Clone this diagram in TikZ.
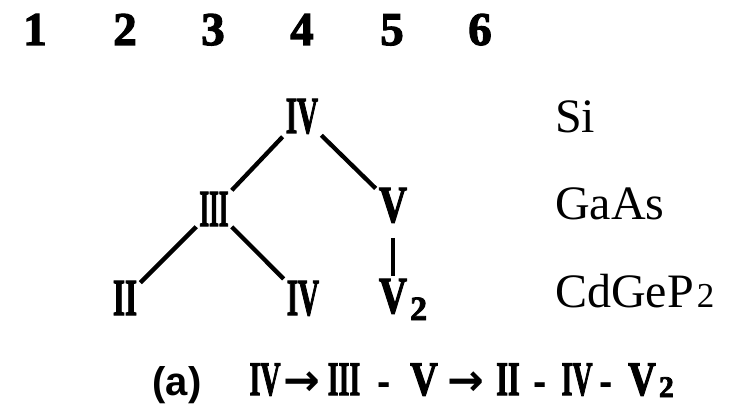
\documentclass[tikz,border=0pt]{standalone}
\usepackage{fontspec}
\usepackage{graphicx}
\setmainfont{Liberation Serif}
\newfontfamily\rnfont[BoldFeatures={FakeBold=2.5}]{Liberation Serif}
\newfontfamily\capsans{Liberation Sans}
\newfontfamily\arrowfont{DejaVu Sans}
\newcommand\RN[2]{\scalebox{#1}[1]{#2}}
\newcommand\subtwo[3]{\rlap{\hspace{3pt}\raisebox{#3}{\fontsize{#1}{#1}\selectfont #2}}}
\begin{document}
\begin{tikzpicture}[x=1pt,y=-1pt,
  rn/.style={font=\fontsize{52}{52}\selectfont\rnfont\bfseries, inner sep=3pt, anchor=base},
  rnc/.style={font=\fontsize{48}{48}\selectfont\rnfont\bfseries, inner sep=0pt, anchor=base},
  digit/.style={font=\fontsize{47}{47}\selectfont\rnfont\bfseries, inner sep=0pt, anchor=base},
  lbl/.style={font=\fontsize{48}{48}\selectfont, inner sep=0pt, anchor=base west},
  arr/.style={font=\fontsize{44}{44}\selectfont\arrowfont\bfseries, inner sep=0pt, anchor=base},
  dsh/.style={font=\fontsize{40}{40}\selectfont\capsans\bfseries, inner sep=0pt, anchor=base},
  conn/.style={line width=4.3pt}]
\useasboundingbox (0,0) rectangle (749,406);
\fill[white] (0,0) rectangle (749,406);
% column numbers
\node[digit] (d1) at (35,45) {1};
\node[digit] (d2) at (125,45) {2};
\node[digit] (d3) at (213,45) {3};
\node[digit] (d4) at (302,45) {4};
\node[digit] (d5) at (392,45) {5};
\node[digit] (d6) at (480,45) {6};
% tree
\node[rn] (t4) at (302,133) {\RN{0.56}{IV}};
\node[rn] (m3) at (214,226) {\RN{0.48}{III}};
\node[rn] (m5) at (393,222) {\RN{0.75}{V}};
\node[rn] (b2) at (125,315) {\RN{0.6}{II}};
\node[rn] (b4) at (303,315) {\RN{0.56}{IV}};
\node[rn] (b5) at (393,313) {\RN{0.75}{V}\subtwo{34}{2}{-7pt}};
\draw[conn] (t4) -- (m3);
\draw[conn] (t4) -- (m5);
\draw[conn] (m3) -- (b2);
\draw[conn] (m3) -- (b4);
\draw[conn, line width=3.5pt, shorten <=12pt] (m5.south) -- (b5.north);
% labels
\node[lbl] (si) at (555,133) {Si};
\node[lbl] (gaas) at (555,219) {GaAs};
\node[lbl] (cdgep) at (555,307) {CdGeP\hspace{3pt}{\fontsize{35}{35}\selectfont 2}};
% caption
\node[font=\fontsize{40}{40}\selectfont\capsans\bfseries, inner sep=0pt, anchor=base] (ca) at (177,395) {(a)};
\node[rnc] (c1) at (265,395) {\RN{0.58}{IV}};
\node[arr] (c2) at (302,395) {→};
\node[rnc] (c3) at (344,395) {\RN{0.58}{III}};
\node[dsh] (c4) at (384,395) {-};
\node[rnc] (c5) at (424,395) {\RN{0.8}{V}};
\node[arr] (c6) at (466,395) {→};
\node[rnc] (c7) at (508,395) {\RN{0.63}{II}};
\node[dsh] (c8) at (540,395) {-};
\node[rnc] (c9) at (577,395) {\RN{0.58}{IV}};
\node[dsh] (c10) at (606,395) {-};
\node[rnc] (c11) at (642,395) {\RN{0.8}{V}\subtwo{30}{2}{-2pt}};
\end{tikzpicture}
\end{document}
